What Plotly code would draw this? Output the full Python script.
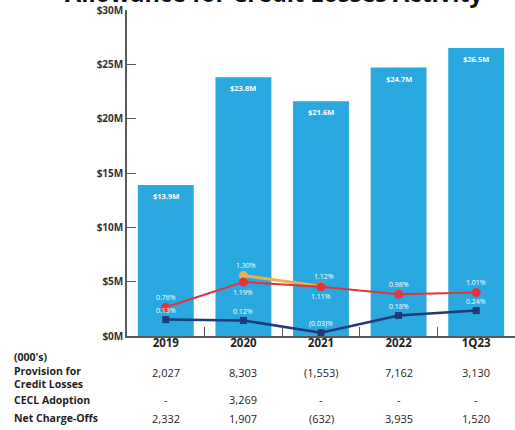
import plotly.graph_objects as go

# ---- data -------------------------------------------------------------
categories = ["2019", "2020", "2021", "2022", "1Q23"]
allowance_musd = [13.9, 23.8, 21.6, 24.7, 26.5]          # allowance for credit losses, $M
acl_ratio = [0.76, 1.19, 1.11, 0.98, 1.01]               # allowance / loans, %
acl_ratio_cecl = [None, 1.30, 1.12, None, None]          # ratio including CECL adoption, %
nco_ratio = [0.13, 0.12, -0.03, 0.18, 0.24]              # net charge-off ratio, %

provision = [2027, 8303, -1553, 7162, 3130]              # $000's
cecl_adoption = [None, 3269, None, None, None]           # $000's
net_charge_offs = [2332, 1907, -632, 3935, 1520]         # $000's

y_ticks = [0, 5, 10, 15, 20, 25, 30]

# ---- styling ----------------------------------------------------------
FONT = "Open Sans"
BAR_BLUE = "#2AA8E0"
RED = "#E2343C"
NAVY = "#1E3A78"
ORANGE = "#EDB04C"
AXIS = "#5A5A5A"
TEXT = "#1E1E1E"

W, H = 515, 430
M_L, M_R, M_T, M_B = 127, 0, 10, 94


def fmt_num(v):
    if v is None:
        return "-"
    return f"({abs(v):,})" if v < 0 else f"{v:,}"


def fmt_pct(v):
    return f"({abs(v):.2f})%" if v < 0 else f"{v:.2f}%"


fig = go.Figure()

fig.add_trace(go.Bar(
    x=categories, y=allowance_musd, marker=dict(color=BAR_BLUE, line=dict(width=0)),
    width=0.72, hoverinfo="skip", showlegend=False,
))

fig.add_trace(go.Scatter(
    x=categories, y=acl_ratio_cecl, yaxis="y2", mode="lines+markers",
    line=dict(color=ORANGE, width=3), marker=dict(color=ORANGE, size=9),
    cliponaxis=False, showlegend=False,
))
fig.add_trace(go.Scatter(
    x=categories, y=acl_ratio, yaxis="y2", mode="lines+markers",
    line=dict(color=RED, width=2), marker=dict(color=RED, size=9),
    cliponaxis=False, showlegend=False,
))
fig.add_trace(go.Scatter(
    x=categories, y=nco_ratio, yaxis="y3", mode="lines+markers",
    line=dict(color=NAVY, width=2.5), marker=dict(color=NAVY, size=7, symbol="square"),
    cliponaxis=False, showlegend=False,
))

ann = []

# bar value labels (annotations on a category axis are placed by category index)
for i, v in enumerate(allowance_musd):
    ann.append(dict(x=i, y=v, xref="x", yref="y", text=f"${v}M", showarrow=False,
                    yanchor="middle", yshift=-11,
                    font=dict(family=FONT, size=7.5, color="white", weight="bold")))

# ratio labels (placement: +1 above the point, -1 below)
acl_place = [1, -1, -1, 1, 1]
for i, (v, p) in enumerate(zip(acl_ratio, acl_place)):
    ann.append(dict(x=i, y=v, xref="x", yref="y2", text=fmt_pct(v), showarrow=False,
                    yanchor="middle", yshift=10 * p,
                    font=dict(family=FONT, size=7, color="white")))
for i, v in enumerate(acl_ratio_cecl):
    if v is not None:
        ann.append(dict(x=i, y=v, xref="x", yref="y2", text=fmt_pct(v), showarrow=False,
                        yanchor="middle", yshift=10, xshift=3,
                        font=dict(family=FONT, size=7, color="white")))
for i, v in enumerate(nco_ratio):
    ann.append(dict(x=i, y=v, xref="x", yref="y3", text=fmt_pct(v), showarrow=False,
                    yanchor="middle", yshift=9,
                    font=dict(family=FONT, size=7, color="white")))

# table beneath the chart
plot_bottom = H - M_B


def row_y(px):
    return -(px - plot_bottom)


label_font = dict(family=FONT, size=10.5, color=TEXT, weight="bold")
value_font = dict(family=FONT, size=11, color=TEXT)
row_labels = [("(000's)<br>Provision for<br>Credit Losses", 370),
              ("CECL Adoption", 400), ("Net Charge-Offs", 418)]
for t, py in row_labels:
    ann.append(dict(x=0, y=0, xref="paper", yref="paper", text=t, showarrow=False,
                    xanchor="left", yanchor="middle", align="left",
                    xshift=-(M_L - 12), yshift=row_y(py), font=label_font))

for row, py in [(provision, 372), (cecl_adoption, 399), (net_charge_offs, 418)]:
    for i, v in enumerate(row):
        ann.append(dict(x=i, y=0, xref="x", yref="paper", text=fmt_num(v), showarrow=False,
                        yanchor="middle", yshift=row_y(py), font=value_font))

# chart title running off the top edge
ann.append(dict(x=0.381, y=1, xref="paper", yref="paper",
                text="Allowance for Credit Losses Activity", showarrow=False,
                xanchor="center", yanchor="bottom", yshift=-1,
                font=dict(family=FONT, size=23.5, color="#111111", weight="bold")))

fig.update_layout(
    width=W, height=H,
    margin=dict(l=M_L, r=M_R, t=M_T, b=M_B),
    paper_bgcolor="white", plot_bgcolor="white",
    font=dict(family=FONT, color=TEXT),
    bargap=0.28,
    annotations=ann,
    xaxis=dict(
        type="category", range=[-0.5, 4.5], showgrid=False,
        showline=True, linecolor=AXIS, linewidth=1.5,
        ticks="inside", tickson="boundaries", ticklen=9, tickcolor=AXIS, tickwidth=1.2,
        ticklabelstandoff=-5,
        tickfont=dict(family=FONT, size=11.5, color=TEXT, weight="bold"),
    ),
    yaxis=dict(
        range=[0, 30], tickvals=y_ticks, ticktext=[f"${v}M" for v in y_ticks],
        showgrid=False, zeroline=False,
        showline=True, linecolor=AXIS, linewidth=1.5,
        ticks="inside", ticklen=9, tickcolor=AXIS, tickwidth=1.2,
        tickfont=dict(family=FONT, size=10, color="#333333", weight="bold"),
    ),
    yaxis2=dict(range=[0.27, 5.83], overlaying="y", visible=False),
    yaxis3=dict(range=[-0.07, 3.91], overlaying="y", visible=False),
)

fig.write_html("out.html")
